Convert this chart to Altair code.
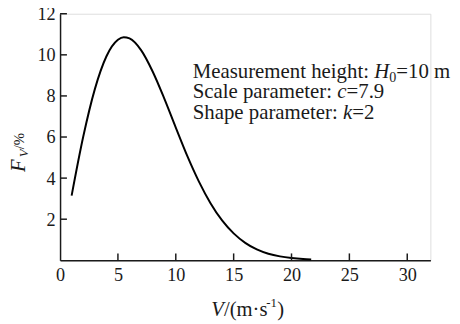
import altair as alt
import pandas as pd

# Wind speed V (m/s) and frequency F_V (%)
speed = [1, 2, 3, 4, 5, 5.5, 6, 7, 8, 9, 10, 11, 12, 13, 14, 15, 16, 17, 18, 19, 20, 21, 21.7]
freq = [3.15, 6.01, 8.32, 9.92, 10.73, 10.86, 10.80, 10.23, 9.19, 7.88, 6.46, 5.07,
        3.83, 2.78, 1.94, 1.31, 0.85, 0.53, 0.32, 0.19, 0.11, 0.06, 0.04]
x_ticks = [0, 5, 10, 15, 20, 25, 30]
y_ticks = [2, 4, 6, 8, 10, 12]
note_lines = ["Measurement height:", "Scale parameter:", "Shape parameter:"]
note_vars = ["H", "c", "k"]
note_vals = ["=10 m", "=7.9", "=2"]

W, H = 377, 251
FONT = "Liberation Serif"
INK = "#1a1a1a"
FS = 21.2

df = pd.DataFrame({"V": speed, "F": freq})
xs = alt.Scale(domain=[0, 32], nice=False, zero=False)
ys = alt.Scale(domain=[0, 12], nice=False)
x_axis = alt.Axis(values=x_ticks, ticks=False, grid=False, title=None,
                  labelFont=FONT, labelFontSize=18.5, labelColor=INK,
                  labelPadding=6, domainColor=INK, domainWidth=1.5, labelFlush=False)
y_axis = alt.Axis(values=y_ticks, ticks=False, grid=False, title=None,
                  labelFont=FONT, labelFontSize=18.5, labelColor=INK,
                  labelPadding=5, domainColor=INK, domainWidth=1.5, labelFlush=False)

curve = alt.Chart(df).mark_line(color="black", strokeWidth=2, interpolate="monotone").encode(
    x=alt.X("V:Q", scale=xs, axis=x_axis),
    y=alt.Y("F:Q", scale=ys, axis=y_axis),
)

xt = alt.Chart(pd.DataFrame({"t": x_ticks[1:]})).mark_rule(color=INK, strokeWidth=1.5).encode(
    x=alt.X("t:Q", scale=xs, axis=x_axis), y=alt.value(H), y2=alt.value(H - 7))
yt = alt.Chart(pd.DataFrame({"t": y_ticks})).mark_rule(color=INK, strokeWidth=1.5).encode(
    y=alt.Y("t:Q", scale=ys, axis=y_axis), x=alt.value(0), x2=alt.value(7))


def txt(s, x, y, size=FS, italic=False, angle=0):
    kw = dict(font=FONT, fontSize=size, color=INK, align="left", baseline="alphabetic")
    if italic:
        kw["fontStyle"] = "italic"
    if angle:
        kw["angle"] = angle
    return alt.Chart(pd.DataFrame({"s": [s]})).mark_text(**kw).encode(
        text="s:N", x=alt.value(x), y=alt.value(y))


layers = [curve, xt, yt]

# annotation
x0 = 135
ys_ = [65, 86, 107]
var_off = [184.9, 147.2, 153.1]
var_w = [15.3, 9.4, 9.4]
for i in range(3):
    layers.append(txt(note_lines[i], x0, ys_[i]))
    layers.append(txt(note_vars[i], x0 + var_off[i], ys_[i], italic=True))
    if i == 0:
        layers.append(txt("0", x0 + var_off[i] + var_w[i], ys_[i] + 4, size=14.3))
        layers.append(txt(note_vals[i], x0 + var_off[i] + var_w[i] + 7.1, ys_[i]))
    else:
        layers.append(txt(note_vals[i], x0 + var_off[i] + var_w[i], ys_[i]))

# x title
layers.append(txt("V", 154, 308, size=21, italic=True))
layers.append(txt("/(m·s", 166.8, 308, size=21))
layers.append(txt("-1", 210, 299, size=13))
layers.append(txt(")", 221, 308, size=21))

# y title (rotated)
layers.append(txt("F", -36, 161, size=21, italic=True, angle=270))
layers.append(txt("V", -33, 146, size=13, italic=True, angle=270))
layers.append(txt("/%", -37, 138, size=15, angle=270))

chart = alt.layer(*layers).properties(
    width=W, height=H,
    autosize=alt.AutoSizeParams(type="none"),
    padding={"left": 53, "top": 3, "right": 22, "bottom": 62},
).configure_view(stroke=None).configure(background="white")

chart.save("out.html", embed_options={"renderer": "svg", "actions": False})
